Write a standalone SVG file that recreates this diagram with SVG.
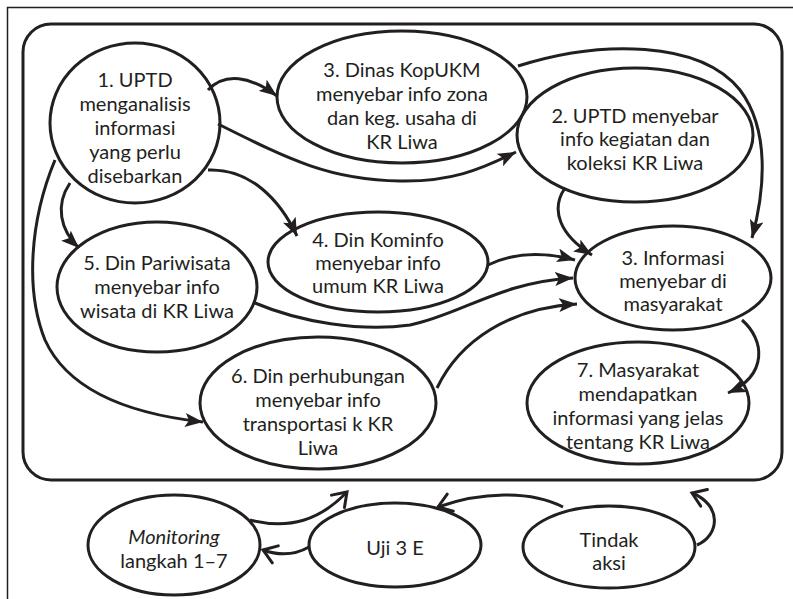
<svg xmlns="http://www.w3.org/2000/svg" width="793" height="599" viewBox="0 0 793 599">
  <style>
    .node { fill: #ffffff; stroke: #231f20; stroke-width: 3; }
    .lbl { font-family: Lato, "Open Sans", sans-serif; font-size: 20px; fill: #231f20; text-anchor: middle; }
    .edge { fill: none; stroke: #231f20; stroke-width: 3; }
  </style>
  <defs>
    <marker id="solid" markerUnits="userSpaceOnUse" markerWidth="20" markerHeight="14" refX="18" refY="7" orient="auto">
      <path d="M0,0 L18,7 L0,14 L4,7 Z" fill="#231f20"/>
    </marker>
    <marker id="vee" markerUnits="userSpaceOnUse" markerWidth="18" markerHeight="22" refX="15" refY="11" orient="auto">
      <path d="M2,2 L15,11 L2,20" fill="none" stroke="#231f20" stroke-width="3" stroke-linecap="round"/>
    </marker>
  </defs>

  <rect width="793" height="599" fill="#ffffff"/>
  <!-- outer frame -->
  <rect x="7.5" y="7.5" width="800" height="600" fill="none" stroke="#231f20" stroke-width="1.5"/>
  <!-- boundary of steps 1-7 -->
  <rect x="23" y="24" width="759" height="456" rx="28" ry="28" fill="none" stroke="#231f20" stroke-width="3"/>

  <g id="n1">
    <ellipse class="node" cx="135" cy="123" rx="85" ry="80"/>
    <text class="lbl" x="135" y="87">1. UPTD</text>
    <text class="lbl" x="135" y="111">menganalisis</text>
    <text class="lbl" x="135" y="135">informasi</text>
    <text class="lbl" x="135" y="159">yang perlu</text>
    <text class="lbl" x="135" y="183">disebarkan</text>
  </g>
  <g id="n3-kopukm">
    <ellipse class="node" cx="402" cy="97" rx="125" ry="66"/>
    <text class="lbl" x="402" y="77">3. Dinas KopUKM</text>
    <text class="lbl" x="402" y="101">menyebar info zona</text>
    <text class="lbl" x="402" y="125">dan keg. usaha di</text>
    <text class="lbl" x="402" y="149">KR Liwa</text>
  </g>
  <g id="n2">
    <ellipse class="node" cx="635" cy="135" rx="118" ry="67"/>
    <text class="lbl" x="635" y="123">2. UPTD menyebar</text>
    <text class="lbl" x="635" y="146">info kegiatan dan</text>
    <text class="lbl" x="635" y="170">koleksi KR Liwa</text>
  </g>
  <g id="n3-info">
    <ellipse class="node" cx="673" cy="278" rx="98" ry="52"/>
    <text class="lbl" x="673" y="265">3. Informasi</text>
    <text class="lbl" x="673" y="288">menyebar di</text>
    <text class="lbl" x="673" y="311">masyarakat</text>
  </g>
  <g id="n4">
    <ellipse class="node" cx="378" cy="262" rx="110" ry="50"/>
    <text class="lbl" x="378" y="247">4. Din Kominfo</text>
    <text class="lbl" x="378" y="270">menyebar info</text>
    <text class="lbl" x="378" y="293">umum KR Liwa</text>
  </g>
  <g id="n5">
    <ellipse class="node" cx="157" cy="287" rx="100" ry="65"/>
    <text class="lbl" x="157" y="270">5. Din Pariwisata</text>
    <text class="lbl" x="157" y="294">menyebar info</text>
    <text class="lbl" x="157" y="318">wisata di KR Liwa</text>
  </g>
  <g id="n6">
    <ellipse class="node" cx="318" cy="403" rx="118" ry="66"/>
    <text class="lbl" x="318" y="383">6. Din perhubungan</text>
    <text class="lbl" x="318" y="407">menyebar info</text>
    <text class="lbl" x="318" y="431">transportasi k KR</text>
    <text class="lbl" x="318" y="455">Liwa</text>
  </g>
  <g id="n7">
    <ellipse class="node" cx="638" cy="403" rx="111" ry="61"/>
    <text class="lbl" x="638" y="377">7. Masyarakat</text>
    <text class="lbl" x="638" y="401">mendapatkan</text>
    <text class="lbl" x="638" y="425">informasi yang jelas</text>
    <text class="lbl" x="638" y="449">tentang KR Liwa</text>
  </g>
  <g id="monitoring">
    <ellipse class="node" cx="174" cy="545" rx="86" ry="50"/>
    <text class="lbl" x="174" y="544" font-style="italic">Monitoring</text>
    <text class="lbl" x="174" y="568">langkah 1–7</text>
  </g>
  <g id="uji">
    <ellipse class="node" cx="395" cy="545" rx="86" ry="42"/>
    <text class="lbl" x="395" y="555">Uji 3 E</text>
  </g>
  <g id="tindak">
    <ellipse class="node" cx="609" cy="547" rx="86" ry="41"/>
    <text class="lbl" x="609" y="547">Tindak</text>
    <text class="lbl" x="609" y="570">aksi</text>
  </g>

  <g id="connectors">
    <path class="edge" marker-end="url(#solid)" d="M208,90 C225,72 250,76 277,96"/>
    <path class="edge" marker-end="url(#solid)" d="M218,124 C290,160 330,180 400,181 C450,182 480,170 516,152"/>
    <path class="edge" marker-end="url(#solid)" d="M208,170 C250,168 280,200 297,236"/>
    <path class="edge" marker-end="url(#solid)" d="M70,183 C55,205 60,230 79,248"/>
    <path class="edge" marker-end="url(#solid)" d="M55,160 C30,220 25,290 45,340 C70,395 140,415 203,422"/>
    <path class="edge" marker-end="url(#solid)" d="M518,66 C600,40 700,40 740,90 C770,130 765,190 752,238"/>
    <path class="edge" marker-end="url(#solid)" d="M565,188 C550,210 560,235 592,255"/>
    <path class="edge" marker-end="url(#solid)" d="M488,265 C515,252 545,252 575,260"/>
    <path class="edge" marker-end="url(#solid)" d="M255,303 C300,322 360,332 410,325 C460,315 500,282 573,278"/>
    <path class="edge" marker-end="url(#solid)" d="M437,388 C460,340 510,308 577,304"/>
    <path class="edge" marker-end="url(#solid)" d="M742,320 C765,340 768,375 728,393"/>
    <path class="edge" marker-end="url(#vee)" d="M250,520 C290,530 320,520 347,492"/>
    <path class="edge" marker-end="url(#vee)" d="M309,547 C295,555 280,556 263,550"/>
    <path class="edge" marker-end="url(#vee)" d="M563,507 C530,490 480,492 438,507"/>
    <path class="edge" marker-end="url(#vee)" d="M697,545 C720,535 722,505 692,493"/>
  </g>
</svg>
